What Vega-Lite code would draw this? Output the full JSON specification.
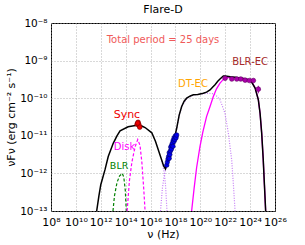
{
  "$schema": "https://vega.github.io/schema/vega-lite/v6.json",
  "width": 224,
  "height": 188,
  "autosize": {"type": "none"},
  "padding": {"left": 51, "top": 23, "right": 30, "bottom": 34},
  "config": {
    "font": "DejaVu Sans",
    "view": {"stroke": "#000000", "strokeWidth": 1},
    "axis": {"grid": true, "gridColor": "#a0a0a0", "gridDash": [1, 2], "gridWidth": 0.8, "domain": false, "ticks": false, "labelFontSize": 11, "labelColor": "#000", "titleFontSize": 11, "titleFontWeight": "normal", "titleColor": "#000"}
  },
  "title": {"text": "Flare-D", "fontSize": 11, "fontWeight": "normal", "offset": 3, "color": "#000"},
  "datasets": {
    "curves": [
      {"c": "total", "x": 11.67, "y": -13}, {"c": "total", "x": 11.85, "y": -12.6}, {"c": "total", "x": 12.0, "y": -12.3}, {"c": "total", "x": 12.34, "y": -11.9}, {"c": "total", "x": 12.6, "y": -11.55}, {"c": "total", "x": 13.0, "y": -11.2}, {"c": "total", "x": 13.3, "y": -11.0}, {"c": "total", "x": 13.55, "y": -10.87}, {"c": "total", "x": 14.2, "y": -10.76}, {"c": "total", "x": 14.9, "y": -10.72}, {"c": "total", "x": 15.3, "y": -10.74}, {"c": "total", "x": 15.56, "y": -10.78}, {"c": "total", "x": 16.1, "y": -10.92}, {"c": "total", "x": 16.4, "y": -11.15}, {"c": "total", "x": 16.7, "y": -11.45}, {"c": "total", "x": 16.9, "y": -11.65}, {"c": "total", "x": 17.05, "y": -11.8}, {"c": "total", "x": 17.2, "y": -11.88}, {"c": "total", "x": 17.35, "y": -11.72}, {"c": "total", "x": 17.5, "y": -11.52}, {"c": "total", "x": 17.83, "y": -11.2}, {"c": "total", "x": 18.1, "y": -10.8}, {"c": "total", "x": 18.3, "y": -10.45}, {"c": "total", "x": 18.5, "y": -10.22}, {"c": "total", "x": 18.7, "y": -10.08}, {"c": "total", "x": 18.9, "y": -10.0}, {"c": "total", "x": 19.2, "y": -9.94}, {"c": "total", "x": 19.44, "y": -9.91}, {"c": "total", "x": 19.8, "y": -9.9}, {"c": "total", "x": 20.24, "y": -9.87}, {"c": "total", "x": 20.5, "y": -9.84}, {"c": "total", "x": 20.78, "y": -9.78}, {"c": "total", "x": 21.0, "y": -9.7}, {"c": "total", "x": 21.18, "y": -9.64}, {"c": "total", "x": 21.4, "y": -9.55}, {"c": "total", "x": 21.58, "y": -9.49}, {"c": "total", "x": 21.85, "y": -9.41}, {"c": "total", "x": 22.0, "y": -9.41}, {"c": "total", "x": 22.4, "y": -9.43}, {"c": "total", "x": 22.8, "y": -9.44}, {"c": "total", "x": 23.2, "y": -9.46}, {"c": "total", "x": 23.6, "y": -9.48}, {"c": "total", "x": 23.86, "y": -9.51}, {"c": "total", "x": 24.1, "y": -9.56}, {"c": "total", "x": 24.4, "y": -9.73}, {"c": "total", "x": 24.66, "y": -10.04}, {"c": "total", "x": 24.8, "y": -10.4}, {"c": "total", "x": 24.93, "y": -10.93}, {"c": "total", "x": 25.05, "y": -11.6}, {"c": "total", "x": 25.15, "y": -12.3}, {"c": "total", "x": 25.25, "y": -13},
      {"c": "blrec", "x": 19.3, "y": -13}, {"c": "blrec", "x": 19.5, "y": -12.4}, {"c": "blrec", "x": 19.7, "y": -11.85}, {"c": "blrec", "x": 19.97, "y": -11.29}, {"c": "blrec", "x": 20.2, "y": -10.9}, {"c": "blrec", "x": 20.5, "y": -10.49}, {"c": "blrec", "x": 20.8, "y": -10.2}, {"c": "blrec", "x": 21.05, "y": -9.95}, {"c": "blrec", "x": 21.3, "y": -9.75}, {"c": "blrec", "x": 21.58, "y": -9.6}, {"c": "blrec", "x": 21.85, "y": -9.5}, {"c": "blrec", "x": 22.12, "y": -9.45}, {"c": "blrec", "x": 22.5, "y": -9.45}, {"c": "blrec", "x": 23.0, "y": -9.46}, {"c": "blrec", "x": 23.5, "y": -9.48}, {"c": "blrec", "x": 23.9, "y": -9.52}, {"c": "blrec", "x": 24.2, "y": -9.6}, {"c": "blrec", "x": 24.4, "y": -9.72}, {"c": "blrec", "x": 24.66, "y": -10.04}, {"c": "blrec", "x": 24.8, "y": -10.4}, {"c": "blrec", "x": 24.93, "y": -10.93}, {"c": "blrec", "x": 25.05, "y": -11.6}, {"c": "blrec", "x": 25.15, "y": -12.3}, {"c": "blrec", "x": 25.25, "y": -13},
      {"c": "dtec", "x": 16.8, "y": -13}, {"c": "dtec", "x": 16.95, "y": -12.4}, {"c": "dtec", "x": 17.1, "y": -12.05}, {"c": "dtec", "x": 17.3, "y": -11.8}, {"c": "dtec", "x": 17.5, "y": -11.55}, {"c": "dtec", "x": 17.83, "y": -11.22}, {"c": "dtec", "x": 18.1, "y": -10.81}, {"c": "dtec", "x": 18.3, "y": -10.46}, {"c": "dtec", "x": 18.5, "y": -10.23}, {"c": "dtec", "x": 18.9, "y": -10.01}, {"c": "dtec", "x": 19.44, "y": -9.92}, {"c": "dtec", "x": 20.0, "y": -9.89}, {"c": "dtec", "x": 20.5, "y": -9.87}, {"c": "dtec", "x": 21.05, "y": -9.88}, {"c": "dtec", "x": 21.3, "y": -9.94}, {"c": "dtec", "x": 21.58, "y": -10.04}, {"c": "dtec", "x": 21.98, "y": -10.4}, {"c": "dtec", "x": 22.25, "y": -10.93}, {"c": "dtec", "x": 22.52, "y": -11.64}, {"c": "dtec", "x": 22.65, "y": -12.26}, {"c": "dtec", "x": 22.79, "y": -13},
      {"c": "synctail", "x": 16.9, "y": -11.66}, {"c": "synctail", "x": 17.1, "y": -11.98}, {"c": "synctail", "x": 17.2, "y": -12.3}, {"c": "synctail", "x": 17.27, "y": -12.7}, {"c": "synctail", "x": 17.32, "y": -13},
      {"c": "blr", "x": 12.98, "y": -13}, {"c": "blr", "x": 13.1, "y": -12.6}, {"c": "blr", "x": 13.3, "y": -12.25}, {"c": "blr", "x": 13.5, "y": -12.07}, {"c": "blr", "x": 13.72, "y": -12.0}, {"c": "blr", "x": 13.85, "y": -12.1}, {"c": "blr", "x": 13.97, "y": -12.45}, {"c": "blr", "x": 14.05, "y": -13},
      {"c": "disk", "x": 14.12, "y": -13}, {"c": "disk", "x": 14.3, "y": -12.2}, {"c": "disk", "x": 14.5, "y": -11.7}, {"c": "disk", "x": 14.75, "y": -11.3}, {"c": "disk", "x": 14.97, "y": -11.1}, {"c": "disk", "x": 15.15, "y": -11.25}, {"c": "disk", "x": 15.3, "y": -11.7}, {"c": "disk", "x": 15.45, "y": -12.4}, {"c": "disk", "x": 15.56, "y": -13}
    ],
    "points": [
      {"s": "opt", "x": 14.92, "y": -10.69}, {"s": "opt", "x": 15.0, "y": -10.64}, {"s": "opt", "x": 15.07, "y": -10.71}, {"s": "opt", "x": 15.13, "y": -10.77}, {"s": "opt", "x": 14.97, "y": -10.66},
      {"s": "x", "x": 17.3, "y": -11.78}, {"s": "x", "x": 17.35, "y": -11.7}, {"s": "x", "x": 17.4, "y": -11.62}, {"s": "x", "x": 17.45, "y": -11.55}, {"s": "x", "x": 17.5, "y": -11.6}, {"s": "x", "x": 17.5, "y": -11.45}, {"s": "x", "x": 17.55, "y": -11.5}, {"s": "x", "x": 17.6, "y": -11.4}, {"s": "x", "x": 17.62, "y": -11.3}, {"s": "x", "x": 17.68, "y": -11.35}, {"s": "x", "x": 17.7, "y": -11.25}, {"s": "x", "x": 17.75, "y": -11.2}, {"s": "x", "x": 17.8, "y": -11.28}, {"s": "x", "x": 17.82, "y": -11.12}, {"s": "x", "x": 17.88, "y": -11.15}, {"s": "x", "x": 17.9, "y": -11.05}, {"s": "x", "x": 17.95, "y": -11.1}, {"s": "x", "x": 18.0, "y": -11.0}, {"s": "x", "x": 18.05, "y": -11.05}, {"s": "x", "x": 18.1, "y": -10.98},
      {"s": "g", "x": 21.99, "y": -9.47, "lo": -9.5, "hi": -9.44}, {"s": "g", "x": 22.53, "y": -9.49, "lo": -9.52, "hi": -9.46}, {"s": "g", "x": 22.93, "y": -9.49, "lo": -9.52, "hi": -9.46}, {"s": "g", "x": 23.25, "y": -9.49, "lo": -9.52, "hi": -9.46}, {"s": "g", "x": 23.6, "y": -9.52, "lo": -9.56, "hi": -9.48}, {"s": "g", "x": 23.94, "y": -9.53, "lo": -9.57, "hi": -9.49}, {"s": "g", "x": 24.26, "y": -9.53, "lo": -9.58, "hi": -9.48}, {"s": "g", "x": 24.66, "y": -9.76, "lo": -9.87, "hi": -9.67}
    ],
    "labels": [
      {"t": "Sync", "x": 14.1, "y": -10.45, "k": "sync"},
      {"t": "Disk", "x": 13.9, "y": -11.3, "k": "disk"},
      {"t": "BLR", "x": 13.47, "y": -11.8, "k": "blr"},
      {"t": "DT-EC", "x": 19.41, "y": -9.62, "k": "dtec"},
      {"t": "BLR-EC", "x": 24.0, "y": -9.04, "k": "blrec"},
      {"t": "Total period = 25 days", "x": 17.0, "y": -8.45, "k": "tp"}
    ]
  },
  "encoding": {
    "x": {"field": "x", "type": "quantitative", "scale": {"domain": [8, 26], "nice": false, "zero": false},
      "axis": {"title": "ν (Hz)", "values": [8, 10, 12, 14, 16, 18, 20, 22, 24, 26], "labelExpr": "['10⁸','10¹⁰','10¹²','10¹⁴','10¹⁶','10¹⁸','10²⁰','10²²','10²⁴','10²⁶'][round((datum.value-8)/2)]", "labelPadding": 5, "titlePadding": 1, "labelFlush": false}},
    "y": {"field": "y", "type": "quantitative", "scale": {"domain": [-13, -8], "nice": false, "zero": false},
      "axis": {"title": "νFν (erg cm⁻² s⁻¹)", "values": [-13, -12, -11, -10, -9, -8], "labelExpr": "['10⁻¹³','10⁻¹²','10⁻¹¹','10⁻¹⁰','10⁻⁹','10⁻⁸'][round(datum.value+13)]", "labelPadding": 4, "titlePadding": 3, "labelFlush": false, "labelFontSize": 10.5}}
  },
  "layer": [
    {"data": {"name": "curves"}, "transform": [{"filter": "datum.c=='dtec'"}], "mark": {"type": "line", "color": "#c47cf5", "strokeWidth": 1.2, "strokeDash": [1, 1.5], "clip": true}},
    {"data": {"name": "curves"}, "transform": [{"filter": "datum.c=='synctail'"}], "mark": {"type": "line", "color": "#c47cf5", "strokeWidth": 1.2, "strokeDash": [1, 1.5], "clip": true}},
    {"data": {"name": "curves"}, "transform": [{"filter": "datum.c=='blr'"}], "mark": {"type": "line", "color": "#008000", "strokeWidth": 1.2, "strokeDash": [3, 2], "clip": true}},
    {"data": {"name": "curves"}, "transform": [{"filter": "datum.c=='disk'"}], "mark": {"type": "line", "color": "#ff00ff", "strokeWidth": 1.2, "strokeDash": [3, 2], "clip": true}},
    {"data": {"name": "curves"}, "transform": [{"filter": "datum.c=='blrec'"}], "mark": {"type": "line", "color": "#ff00ff", "strokeWidth": 1.3, "clip": true}},
    {"data": {"name": "curves"}, "transform": [{"filter": "datum.c=='total'"}], "mark": {"type": "line", "color": "#000000", "strokeWidth": 1.5, "clip": true}},
    {"data": {"name": "points"}, "transform": [{"filter": "datum.s=='g'"}], "mark": {"type": "rule", "color": "#990099", "strokeWidth": 1}, "encoding": {"y": {"field": "lo", "type": "quantitative"}, "y2": {"field": "hi"}}},
    {"data": {"name": "points"}, "transform": [{"filter": "datum.s=='g'"}], "mark": {"type": "circle", "size": 22, "color": "#aa00aa", "stroke": "#660066", "strokeWidth": 0.6, "opacity": 1}},
    {"data": {"name": "points"}, "transform": [{"filter": "datum.s=='x'"}], "mark": {"type": "circle", "size": 20, "color": "#0000ee", "stroke": "#000066", "strokeWidth": 0.6, "opacity": 1}},
    {"data": {"name": "points"}, "transform": [{"filter": "datum.s=='opt'"}], "mark": {"type": "circle", "size": 22, "color": "#ee0000", "stroke": "#770000", "strokeWidth": 0.6, "opacity": 1}},
    {"data": {"name": "labels"}, "transform": [{"filter": "datum.k=='sync'"}], "mark": {"type": "text", "fontSize": 11, "color": "#ee0000"}, "encoding": {"text": {"field": "t"}}},
    {"data": {"name": "labels"}, "transform": [{"filter": "datum.k=='disk'"}], "mark": {"type": "text", "fontSize": 10, "color": "#ff00ff"}, "encoding": {"text": {"field": "t"}}},
    {"data": {"name": "labels"}, "transform": [{"filter": "datum.k=='blr'"}], "mark": {"type": "text", "fontSize": 9.5, "color": "#008000"}, "encoding": {"text": {"field": "t"}}},
    {"data": {"name": "labels"}, "transform": [{"filter": "datum.k=='dtec'"}], "mark": {"type": "text", "fontSize": 10, "color": "#ffa500"}, "encoding": {"text": {"field": "t"}}},
    {"data": {"name": "labels"}, "transform": [{"filter": "datum.k=='blrec'"}], "mark": {"type": "text", "fontSize": 10, "color": "#a52a2a"}, "encoding": {"text": {"field": "t"}}},
    {"data": {"name": "labels"}, "transform": [{"filter": "datum.k=='tp'"}], "mark": {"type": "text", "fontSize": 10, "color": "#f05a5a"}, "encoding": {"text": {"field": "t"}}}
  ]
}
